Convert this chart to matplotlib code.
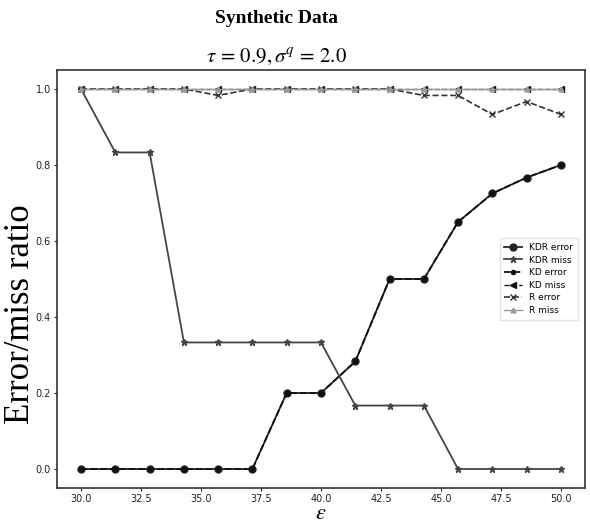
import numpy as np
import matplotlib
matplotlib.use("Agg")
import matplotlib.pyplot as plt

# epsilon values (15 steps from 30 to 50)
eps = [30.0, 31.43, 32.86, 34.29, 35.71, 37.14, 38.57, 40.0,
       41.43, 42.86, 44.29, 45.71, 47.14, 48.57, 50.0]

kdr_error = [0, 0, 0, 0, 0, 0, 0.2, 0.2, 0.283, 0.5, 0.5, 0.65, 0.725, 0.767, 0.8]
kdr_miss = [1.0, 0.833, 0.833, 0.333, 0.333, 0.333, 0.333, 0.333,
            0.167, 0.167, 0.167, 0, 0, 0, 0]
kd_error = [0, 0, 0, 0, 0, 0, 0.2, 0.2, 0.283, 0.5, 0.5, 0.65, 0.725, 0.767, 0.8]
kd_miss = [1.0] * 15
r_error = [1.0, 1.0, 1.0, 1.0, 0.983, 1.0, 1.0, 1.0, 1.0, 1.0,
           0.983, 0.983, 0.933, 0.967, 0.933]
r_miss = [1.0] * 15

plt.rcParams["mathtext.fontset"] = "stix"

fig = plt.figure(figsize=(5.9, 5.23), dpi=100)
ax = fig.add_axes([0.0966, 0.0669, 0.8949, 0.7993])

ax.plot(eps, kdr_error, "-", color="#222222", marker="o", markersize=5, lw=1.3, label="KDR error")
ax.plot(eps, kdr_miss, "-", color="#444444", marker="*", markersize=5, lw=1.3, label="KDR miss")
ax.plot(eps, kd_error, "--", color="#111111", marker="o", markersize=3, lw=1.3, label="KD error")
ax.plot(eps, kd_miss, "--", color="#111111", marker="<", markersize=4, lw=1.0, label="KD miss")
ax.plot(eps, r_error, "--", color="#333333", marker="x", markersize=5, lw=1.2, label="R error")
ax.plot(eps, r_miss, "-", color="#999999", marker="^", markersize=3.5, lw=1.0, label="R miss")

ax.set_xticks([30.0, 32.5, 35.0, 37.5, 40.0, 42.5, 45.0, 47.5, 50.0])
ax.set_yticks([0.0, 0.2, 0.4, 0.6, 0.8, 1.0])
ax.tick_params(labelsize=7, colors="#222222", length=2.5, pad=2)
for s in ax.spines.values():
    s.set_color("#333333")
    s.set_linewidth(1.2)

ax.set_ylabel("Error/miss ratio", family="Liberation Serif", fontsize=25)
ax.yaxis.set_label_coords(-0.038, 0.416)
ax.set_xlabel(r"$\varepsilon$", fontsize=16)
ax.xaxis.set_label_coords(0.5, -0.036)

leg = ax.legend(loc="center right", bbox_to_anchor=(0.995, 0.5), fontsize=6.5,
                frameon=True, fancybox=False, edgecolor="#dddddd",
                handlelength=2.0, borderpad=0.5, labelspacing=0.4)

fig.text(0.468, 0.965, "Synthetic Data", ha="center", va="center",
         family="Liberation Serif", fontweight="bold", fontsize=14)
fig.text(0.468, 0.891, r"$\tau\, =\, 0.9, \sigma^q\, =\, 2.0$", ha="center", va="center", fontsize=15)

fig.savefig("out.png", dpi=100)
